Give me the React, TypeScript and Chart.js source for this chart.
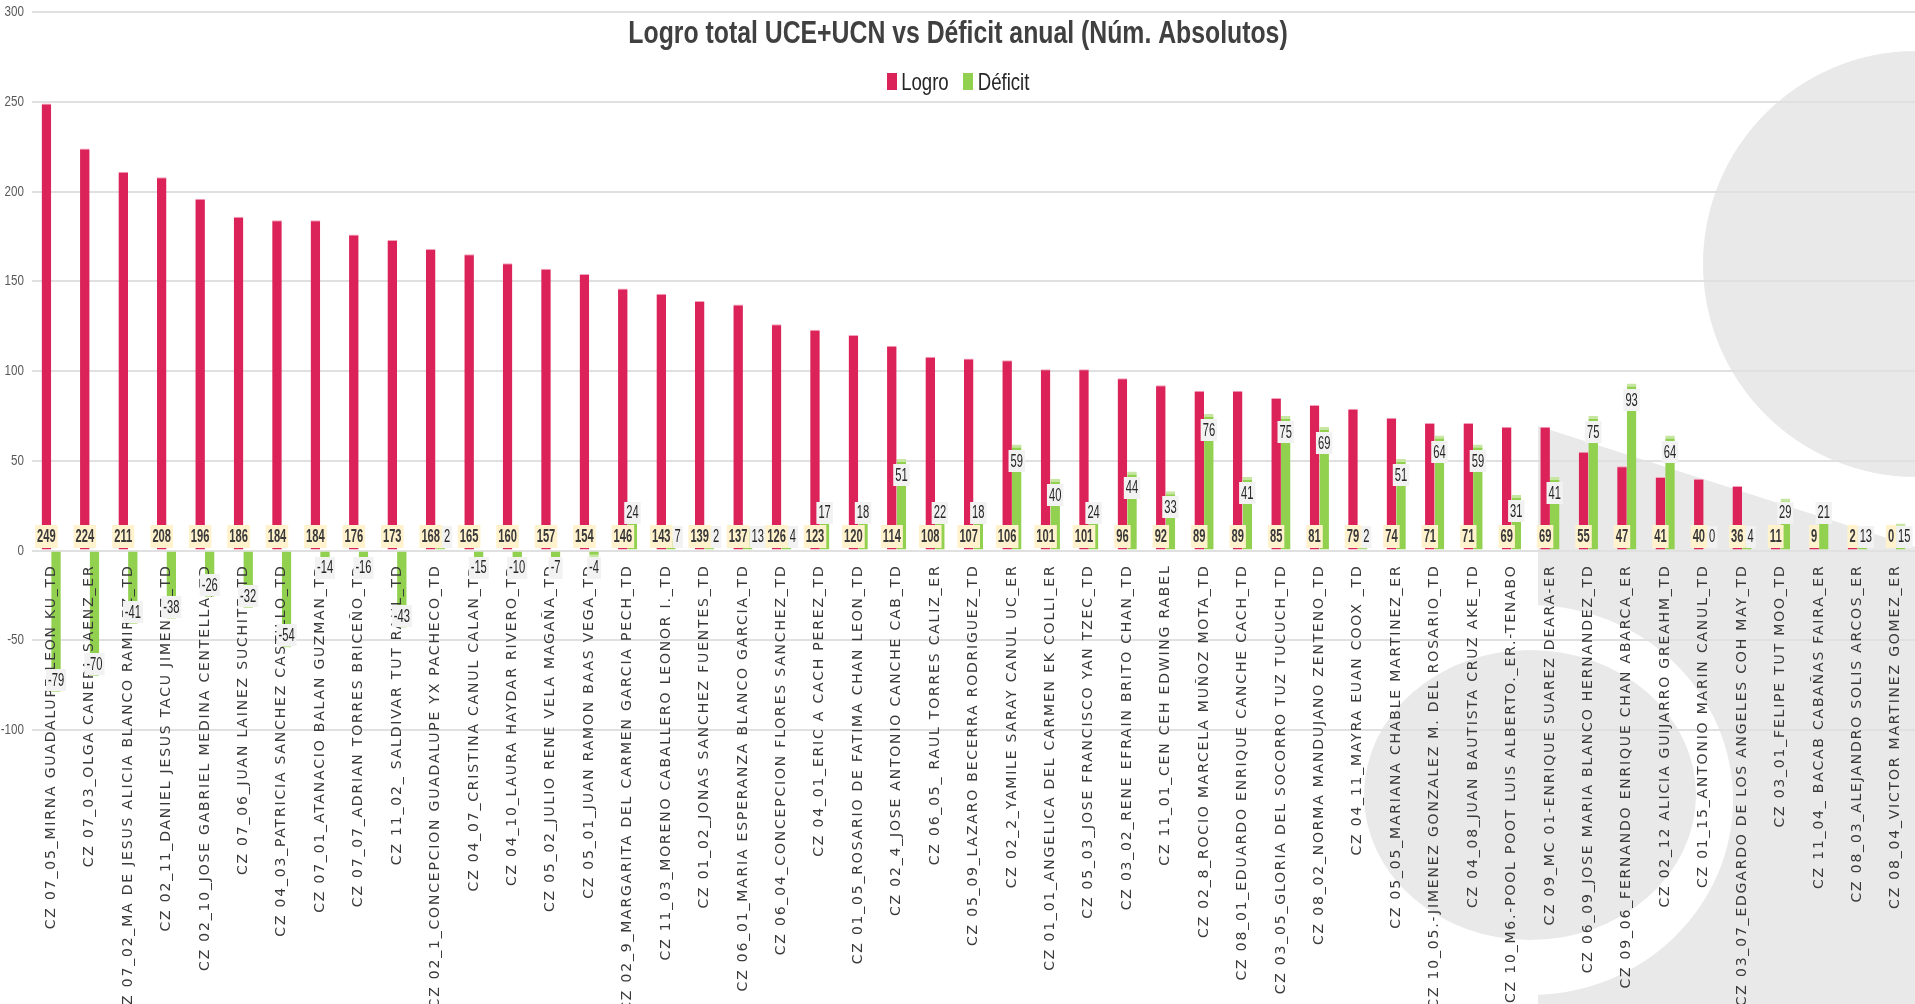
import React, { useEffect, useRef } from "react";
import { Chart, registerables } from "chart.js";

Chart.register(...registerables);

const TITLE = "Logro total UCE+UCN vs Déficit anual (Núm. Absolutos)";
const SERIES_NAMES = ["Logro", "Déficit"];

const CATEGORIES = [
  "CZ 07_05_MIRNA GUADALUPE LEON KU_TD",
  "CZ 07_03_OLGA CANEPA SAENZ_ER",
  "CZ 07_02_MA DE JESUS ALICIA BLANCO RAMIREZ_TD",
  "CZ 02_11_DANIEL JESUS TACU JIMENEZ_TD",
  "CZ 02_10_JOSE GABRIEL MEDINA CENTELLA_TD",
  "CZ 07_06_JUAN LAINEZ SUCHITE_TD",
  "CZ 04_03_PATRICIA SANCHEZ CASTILLO_TD",
  "CZ 07_01_ATANACIO BALAN GUZMAN_TD",
  "CZ 07_07_ADRIAN TORRES BRICEÑO_TD",
  "CZ 11_02_ SALDIVAR TUT RAUL_TD",
  "CZ 02_1_CONCEPCION GUADALUPE YX PACHECO_TD",
  "CZ 04_07_CRISTINA CANUL CALAN_TD",
  "CZ 04_10_LAURA HAYDAR RIVERO_TD",
  "CZ 05_02_JULIO RENE VELA MAGAÑA_TD",
  "CZ 05_01_JUAN RAMON BAAS VEGA_TD",
  "CZ 02_9_MARGARITA DEL CARMEN GARCIA PECH_TD",
  "CZ 11_03_MORENO CABALLERO LEONOR I._TD",
  "CZ 01_02_JONAS SANCHEZ FUENTES_TD",
  "CZ 06_01_MARIA ESPERANZA BLANCO GARCIA_TD",
  "CZ 06_04_CONCEPCION FLORES SANCHEZ_TD",
  "CZ 04_01_ERIC A CACH PEREZ_TD",
  "CZ 01_05_ROSARIO DE FATIMA CHAN LEON_TD",
  "CZ 02_4_JOSE ANTONIO CANCHE CAB_TD",
  "CZ 06_05_ RAUL TORRES CALIZ_ER",
  "CZ 05_09_LAZARO BECERRA RODRIGUEZ_TD",
  "CZ 02_2_YAMILE SARAY CANUL UC_ER",
  "CZ 01_01_ANGELICA DEL CARMEN EK COLLI_ER",
  "CZ 05_03_JOSE FRANCISCO YAN TZEC_TD",
  "CZ 03_02_RENE EFRAIN BRITO CHAN_TD",
  "CZ 11_01_CEN CEH EDWING RABEL",
  "CZ 02_8_ROCIO MARCELA MUÑOZ MOTA_TD",
  "CZ 08_01_EDUARDO ENRIQUE CANCHE CACH_TD",
  "CZ 03_05_GLORIA DEL SOCORRO TUZ TUCUCH_TD",
  "CZ 08_02_NORMA MANDUJANO ZENTENO_TD",
  "CZ 04_11_MAYRA EUAN COOX _TD",
  "CZ 05_05_MARIANA CHABLE MARTINEZ_ER",
  "CZ 10_05.-JIMENEZ GONZALEZ M. DEL ROSARIO_TD",
  "CZ 04_08_JUAN BAUTISTA CRUZ AKE_TD",
  "CZ 10_M6.-POOL POOT LUIS ALBERTO._ER.-TENABO",
  "CZ 09_MC 01-ENRIQUE SUAREZ DEARA-ER",
  "CZ 06_09_JOSE MARIA BLANCO HERNANDEZ_TD",
  "CZ 09_06_FERNANDO ENRIQUE CHAN ABARCA_ER",
  "CZ 02_12 ALICIA GUIJARRO GREAHM_TD",
  "CZ 01_15_ANTONIO MARIN CANUL_TD",
  "CZ 03_07_EDGARDO DE LOS ANGELES COH MAY_TD",
  "CZ 03_01_FELIPE TUT MOO_TD",
  "CZ 11_04_ BACAB CABAÑAS FAIRA_ER",
  "CZ 08_03_ALEJANDRO SOLIS ARCOS_ER",
  "CZ 08_04_VICTOR MARTINEZ GOMEZ_ER",
];

const LOGRO = [
  249, 224, 211, 208, 196, 186, 184, 184, 176, 173,
  168, 165, 160, 157, 154, 146, 143, 139, 137, 126,
  123, 120, 114, 108, 107, 106, 101, 101, 96, 92,
  89, 89, 85, 81, 79, 74, 71, 71, 69, 69,
  55, 47, 41, 40, 36, 11, 9, 2, 0,
];

const DEFICIT = [
  -79, -70, -41, -38, -26, -32, -54, -14, -16, -43,
  2, -15, -10, -7, -4, 24, 7, 2, 13, 4,
  17, 18, 51, 22, 18, 59, 40, 24, 44, 33,
  76, 41, 75, 69, 2, 51, 64, 59, 31, 41,
  75, 93, 64, 0, 4, 29, 21, 13, 15,
];

const Y_MIN = -100;
const Y_MAX = 300;
const Y_STEP = 50;

const RED = "#DB2359";
const GREEN = "#92D050";
const DECOR = "#E9E9E9";
const SANS = '"Liberation Sans", Arial, sans-serif';
const SQ = 0.775;
const LBL_SQ = 0.62;
const LBL_PAD = 4;

function boxWidth(ctx: CanvasRenderingContext2D, text: string, font: string, sx: number) {
  ctx.save();
  ctx.font = font;
  const w = ctx.measureText(text).width * sx + LBL_PAD;
  ctx.restore();
  return w;
}

function drawBoxLabel(ctx: CanvasRenderingContext2D, text: string, cx: number, cy: number, bg: string, fg: string, font: string, sx: number, bh: number) {
  ctx.save();
  ctx.font = font;
  const bw = ctx.measureText(text).width * sx + LBL_PAD;
  ctx.fillStyle = bg;
  ctx.fillRect(cx - bw / 2, Math.round(cy - bh / 2), bw, bh);
  ctx.translate(cx, cy);
  ctx.scale(sx, 1);
  ctx.fillStyle = fg;
  ctx.textAlign = "center";
  ctx.textBaseline = "middle";
  ctx.fillText(text, 0, 1);
  ctx.restore();
}

const decorPlugin = {
  id: "decor",
  beforeDraw(chart: any) {
    const ctx: CanvasRenderingContext2D = chart.ctx;
    const W = chart.width;
    const H = chart.height;
    ctx.save();
    ctx.fillStyle = "#ffffff";
    ctx.fillRect(0, 0, W, H);
    ctx.fillStyle = DECOR;
    ctx.beginPath();
    ctx.arc(W + 1, 264, 213, 0, Math.PI * 2);
    ctx.fill();
    ctx.beginPath();
    ctx.moveTo(1538, 426);
    ctx.lineTo(W, 547);
    ctx.lineTo(W, H);
    ctx.lineTo(1538, H);
    ctx.closePath();
    ctx.fill();
    ctx.fillStyle = "#ffffff";
    ctx.beginPath();
    ctx.ellipse(1530, 800, 203, 195, 0, 0, Math.PI * 2);
    ctx.fill();
    ctx.fillStyle = DECOR;
    ctx.beginPath();
    ctx.ellipse(1530, 795, 166, 145, 0, 0, Math.PI * 2);
    ctx.fill();
    ctx.restore();
  },
};

const textPlugin = {
  id: "texts",
  afterDatasetsDraw(chart: any) {
    const ctx: CanvasRenderingContext2D = chart.ctx;
    const xs = chart.scales.x;
    const ys = chart.scales.y;
    const zeroY = ys.getPixelForValue(0);

    // y tick labels
    ctx.save();
    ctx.font = `15px ${SANS}`;
    ctx.fillStyle = "#595959";
    ctx.textAlign = "right";
    ctx.textBaseline = "middle";
    ys.ticks.forEach((t: any) => {
      const py = ys.getPixelForValue(t.value);
      ctx.save();
      ctx.translate(chart.chartArea.left - 8, py);
      ctx.scale(SQ, 1);
      ctx.fillText(String(t.value), 0, 0);
      ctx.restore();
    });
    ctx.restore();

    // category labels
    ctx.save();
    ctx.font = `14px "DejaVu Sans", sans-serif`;
    (ctx as any).letterSpacing = "1.8px";
    ctx.fillStyle = "#3A3A3A";
    ctx.textAlign = "right";
    ctx.textBaseline = "middle";
    CATEGORIES.forEach((c, i) => {
      const px = xs.getPixelForValue(i);
      ctx.save();
      ctx.translate(px, zeroY + 14);
      ctx.rotate(-Math.PI / 2);
      ctx.fillText(c, 0, 0);
      ctx.restore();
    });
    (ctx as any).letterSpacing = "0px";
    ctx.restore();

    // data labels
    const m0 = chart.getDatasetMeta(0);
    const m1 = chart.getDatasetMeta(1);
    const fontL = `bold 18px ${SANS}`;
    const fontD = `18px ${SANS}`;
    const logroRight = LOGRO.map((v, i) => m0.data[i].x + boxWidth(ctx, String(v), fontL, LBL_SQ) / 2);
    DEFICIT.forEach((v, i) => {
      const el = m1.data[i];
      const py = el.y;
      let cx = el.x;
      let cy: number;
      if (v < 0) cy = Math.max(py - 12, zeroY + 17);
      else if (v > 16) cy = Math.min(py + 16, zeroY - 38);
      else {
        cy = zeroY - 14;
        const bw = boxWidth(ctx, String(v), fontD, LBL_SQ);
        cx = Math.max(cx, logroRight[i] + bw / 2);
      }
      drawBoxLabel(ctx, String(v), cx, cy, "#F2F2F2", "#262626", fontD, LBL_SQ, 22);
    });
    LOGRO.forEach((v, i) => {
      const el = m0.data[i];
      drawBoxLabel(ctx, String(v), el.x, zeroY - 14.5, "#FFF2CC", "#3A3A3A", fontL, LBL_SQ, 23);
    });

    // title
    ctx.save();
    ctx.font = `bold 32px ${SANS}`;
    ctx.fillStyle = "#404040";
    ctx.textAlign = "center";
    ctx.textBaseline = "alphabetic";
    ctx.translate(958, 43);
    ctx.scale(SQ, 1);
    ctx.fillText(TITLE, 0, 0);
    ctx.restore();

    // legend
    ctx.save();
    ctx.font = `24px ${SANS}`;
    const colors = [RED, GREEN];
    const boxW = 10, boxH = 17, gapBT = 4.5, gapItems = 14.5;
    const widths = SERIES_NAMES.map((n) => ctx.measureText(n).width * SQ);
    let total = 0;
    widths.forEach((w, i) => {
      total += boxW + gapBT + w + (i < widths.length - 1 ? gapItems : 0);
    });
    let lx = 958 - total / 2;
    const ly = 81;
    SERIES_NAMES.forEach((n, i) => {
      ctx.fillStyle = colors[i];
      ctx.fillRect(Math.round(lx), Math.round(ly - boxH / 2), boxW, boxH);
      lx += boxW + gapBT;
      ctx.save();
      ctx.translate(lx, ly + 8.5);
      ctx.scale(SQ, 1);
      ctx.fillStyle = "#262626";
      ctx.textAlign = "left";
      ctx.textBaseline = "alphabetic";
      ctx.fillText(n, 0, 0);
      ctx.restore();
      lx += widths[i] + gapItems;
    });
    ctx.restore();
  },
};

export default function App() {
  const ref = useRef<HTMLCanvasElement | null>(null);

  useEffect(() => {
    if (!ref.current) return;
    const chart = new Chart(ref.current, {
      type: "bar",
      data: {
        labels: CATEGORIES,
        datasets: [
          {
            label: SERIES_NAMES[0],
            data: LOGRO,
            backgroundColor: RED,
            borderColor: "#F2A2BA",
            borderWidth: { top: 1, left: 0, right: 0, bottom: 0 },
            borderSkipped: "start",
            categoryPercentage: 0.5,
            barPercentage: 1,
          },
          {
            label: SERIES_NAMES[1],
            data: DEFICIT,
            backgroundColor: GREEN,
            borderColor: "#C6E6A2",
            borderWidth: (c: any) =>
              c.raw >= 0
                ? { top: 3, left: 0, right: 0, bottom: 0 }
                : { top: 0, left: 0, right: 0, bottom: 3 },
            borderSkipped: "start",
            categoryPercentage: 0.5,
            barPercentage: 1,
          },
        ] as any,
      },
      options: {
        responsive: false,
        animation: false,
        devicePixelRatio: 1,
        layout: { padding: { top: 12, bottom: 274, left: 0, right: 0 } },
        plugins: {
          legend: { display: false },
          title: { display: false },
          tooltip: { enabled: false },
        },
        scales: {
          x: {
            display: false,
            offset: true,
            grid: { display: false },
          },
          y: {
            min: Y_MIN,
            max: Y_MAX,
            ticks: { stepSize: Y_STEP, display: false },
            grid: { color: "#E0E0E0", lineWidth: 2, drawTicks: false },
            border: { display: false },
            afterFit: (s: any) => {
              s.width = 32;
            },
          },
        },
      } as any,
      plugins: [decorPlugin, textPlugin],
    });
    return () => chart.destroy();
  }, []);

  return (
    <div style={{ position: "fixed", left: 0, top: 0, width: 1915, height: 1004, background: "#fff" }}>
      <canvas ref={ref} width={1915} height={1004} style={{ display: "block", width: 1915, height: 1004 }} />
    </div>
  );
}
